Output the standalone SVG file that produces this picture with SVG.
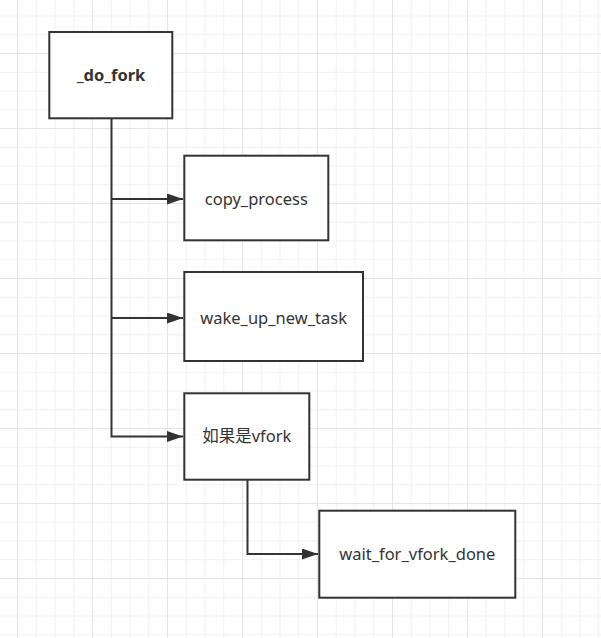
<svg xmlns="http://www.w3.org/2000/svg" width="601" height="638" viewBox="0 0 601 638">
<defs>
<pattern id="grid" patternUnits="userSpaceOnUse" x="17" y="53" width="75" height="75">
<path d="M19.25 0V75M38 0V75M56.75 0V75M0 19.25H75M0 38H75M0 56.75H75" stroke="#f1f1f1" stroke-width="1" fill="none"/>
<path d="M0.5 0V75M0 0.5H75" stroke="#e4e4e4" stroke-width="1" fill="none"/>
</pattern>
<marker id="arrow" markerUnits="userSpaceOnUse" markerWidth="16" markerHeight="12" refX="16" refY="5.5" orient="auto">
<path d="M0,0 L16,5.5 L0,11 z" fill="#333333"/>
</marker>
</defs>
<style>
.box{fill:#ffffff;stroke:#333333;stroke-width:2}
.lbl{font-family:"Microsoft YaHei","Noto Sans","Noto Sans CJK SC",sans-serif;font-size:16.5px;fill:#333333;text-anchor:middle}
.bold{font-weight:bold}
.conn{fill:none;stroke:#333333;stroke-width:2}
</style>
<rect width="601" height="638" fill="#ffffff"/>
<rect width="601" height="638" fill="url(#grid)"/>
<g id="connectors">
<path class="conn" d="M111.5,119 V436.5 H183" marker-end="url(#arrow)"/>
<path class="conn" d="M111.5,199 H183" marker-end="url(#arrow)"/>
<path class="conn" d="M111.5,318 H183" marker-end="url(#arrow)"/>
<path class="conn" d="M247.5,480 V554 H318" marker-end="url(#arrow)"/>
</g>
<g id="do_fork">
<rect class="box" x="49.3" y="32" width="123" height="86.3"/>
<text class="lbl bold" x="111" y="81">_do_fork</text>
</g>
<g id="copy_process">
<rect class="box" x="184.3" y="155.7" width="144" height="84.6"/>
<text class="lbl" x="256.3" y="204.5">copy_process</text>
</g>
<g id="wake_up_new_task">
<rect class="box" x="184.3" y="272" width="178.7" height="89"/>
<text class="lbl" x="273.6" y="323.5">wake_up_new_task</text>
</g>
<g id="if_vfork">
<rect class="box" x="184.3" y="393.3" width="125" height="86.4"/>
<text class="lbl" x="246.8" y="442">如果是vfork</text>
</g>
<g id="wait_for_vfork_done">
<rect class="box" x="319.3" y="510.7" width="196" height="87"/>
<text class="lbl" x="417.3" y="559.5">wait_for_vfork_done</text>
</g>
</svg>
